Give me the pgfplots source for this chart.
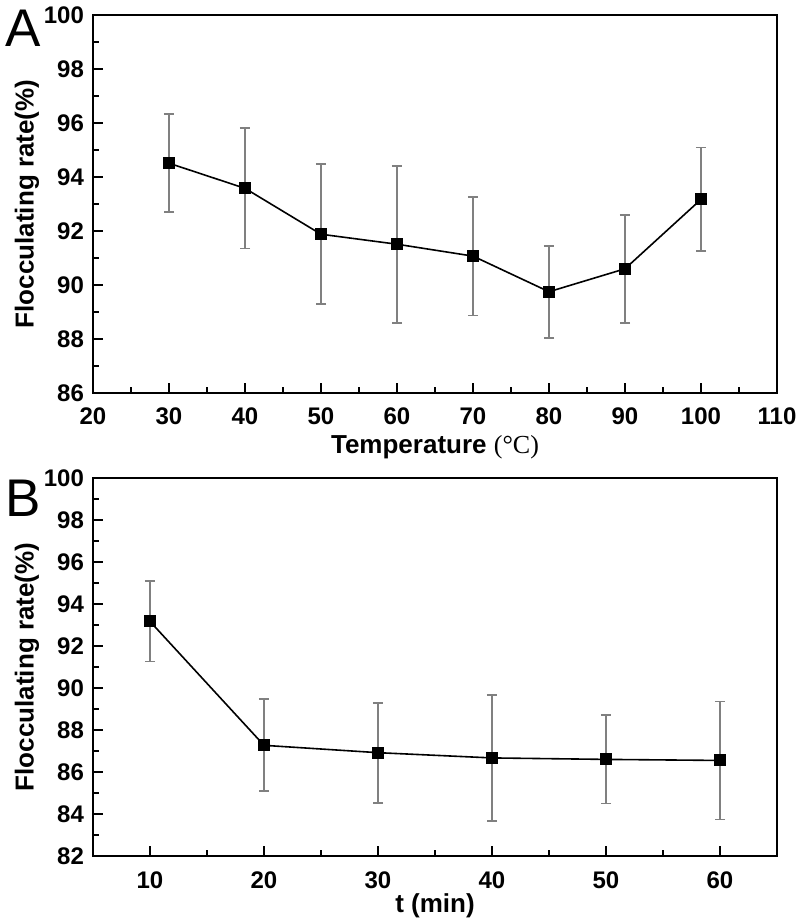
\documentclass[border=0pt]{standalone}
\usepackage{fontspec}
\setmainfont{Liberation Sans}
\newfontfamily\serifpart{Liberation Serif}
\usepackage{pgfplots}
\pgfplotsset{compat=1.18}

\pgfplotsset{
  panel/.style={
    scale only axis, width=342pt, height=189pt,
    axis line style={line width=1.2pt},
    tick align=inside, xtick pos=bottom, ytick pos=left,
    major tick length=5pt, minor tick length=3pt,
    every tick/.style={line width=1.2pt, black},
    minor x tick num=1, minor y tick num=1,
    ticklabel style={font=\fontsize{12}{13}\selectfont\bfseries},
    xticklabel style={yshift=-4pt},
    yticklabel style={xshift=-1pt},
    /pgf/number format/assume math mode=true,
    label style={font=\fontsize{13}{14}\selectfont\bfseries},
    xlabel style={at={(axis description cs:0.5,0)}, anchor=north, yshift=-17.5pt},
    % the label is rotated, so it is placed by its anchor point, not shifted
    ylabel style={at={(axis description cs:-0.0965,0.5)}, anchor=center},
    ylabel={Flocculating rate(\%)},
    clip=false,
  },
  series/.style={
    black, line width=0.8pt, mark=square*, mark size=2.6pt,
    mark options={solid, fill=black},
    error bars/.cd, y dir=both, y explicit,
    error bar style={gray, line width=0.9pt},
    error mark options={rotate=90, mark size=2.6pt, gray, line width=0.9pt},
  },
}

\begin{document}
\begin{tikzpicture}
\useasboundingbox (0,0) rectangle (400pt,460pt);

% --- panel A: temperature ---------------------------------------------
\begin{axis}[panel, at={(46.5pt,263.5pt)}, anchor=south west,
  xmin=20, xmax=110, ymin=86, ymax=100,
  xtick={20,30,...,110}, ytick={86,88,...,100},
  xlabel={Temperature {\serifpart\mdseries(°C)}},
]
  \addplot[series] coordinates {
    (30,94.51) +- (0,1.81)
    (40,93.58) +- (0,2.23)
    (50,91.88) +- (0,2.59)
    (60,91.51) +- (0,2.91)
    (70,91.07) +- (0,2.20)
    (80,89.75) +- (0,1.70)
    (90,90.60) +- (0,2.00)
    (100,93.17) +- (0,1.92)
  };
\end{axis}

% --- panel B: time -----------------------------------------------------
\begin{axis}[panel, at={(46.5pt,32pt)}, anchor=south west,
  xmin=5, xmax=65, ymin=82, ymax=100,
  xtick={10,20,...,60}, ytick={82,84,...,100},
  xticklabel style={yshift=-0.5pt},
  xlabel style={yshift=2pt},
  xlabel={t (min)},
]
  \addplot[series] coordinates {
    (10,93.17) +- (0,1.91)
    (20,87.27) +- (0,2.19)
    (30,86.92) +- (0,2.38)
    (40,86.67) +- (0,3.00)
    (50,86.60) +- (0,2.10)
    (60,86.55) +- (0,2.81)
  };
\end{axis}

\node[anchor=north west, inner sep=0pt, font=\fontsize{26.5}{27}\selectfont]
  at (2.5pt,455pt) {A};
\node[anchor=north west, inner sep=0pt, font=\fontsize{26.5}{27}\selectfont]
  at (2.5pt,220pt) {B};
\end{tikzpicture}
\end{document}
